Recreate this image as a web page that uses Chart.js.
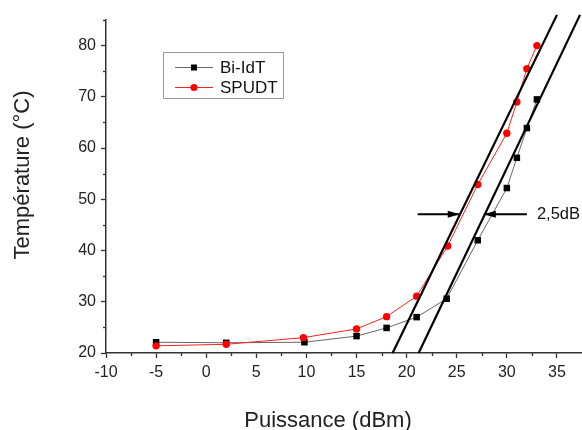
<!DOCTYPE html>
<html><head><meta charset="utf-8">
<script src="https://cdn.jsdelivr.net/npm/chart.js@4/dist/chart.umd.min.js"></script>
<style>html,body{margin:0;padding:0;background:#fff;overflow:hidden}#wrap{width:582px;height:430px}</style>
</head><body><div id="wrap"><canvas id="c" width="582" height="430"></canvas></div>
<script>
// ---- data ----
const powerBiIdT = [-5, 2, 9.8, 15, 18, 21, 24, 27.1, 30, 31, 32, 33];
const tempBiIdT  = [22.1, 22.0, 22.1, 23.3, 24.9, 27.0, 30.6, 42.0, 52.2, 58.1, 63.9, 69.5];
const powerSPUDT = [-5, 2, 9.7, 15, 18, 21, 24.1, 27.1, 30, 31, 32, 33];
const tempSPUDT  = [21.4, 21.7, 23.0, 24.7, 27.1, 31.1, 40.9, 52.9, 62.9, 69.0, 75.5, 80.0];
const fitSPUDTx = [18.6, 35.0];
const fitSPUDTy = [20, 86];
const fitBiIdTx = [21.2, 37.3];
const fitBiIdTy = [20, 86];
const arrowY = 47.1;
const arrowLeftX = [21.1, 25.3];
const arrowRightX = [32.0, 27.7];
const arrowLabel = '2,5dB';
const arrowLabelX = 32.9;
const xTicks = [-10, -5, 0, 5, 10, 15, 20, 25, 30, 35];
const yTicks = [20, 30, 40, 50, 60, 70, 80];
const xMinorTicks = [-7.5, -2.5, 2.5, 7.5, 12.5, 17.5, 22.5, 27.5, 32.5];
const yMinorTicks = [25, 35, 45, 55, 65, 75, 85];
const seriesNames = ['Bi-IdT', 'SPUDT'];
const xTitle = 'Puissance (dBm)';
const yTitle = 'Température (°C)';

const FONT = "'Liberation Sans', Arial, sans-serif";
Chart.defaults.font.family = FONT;
const toPts = (xs, ys) => xs.map((x, i) => ({x: x, y: ys[i]}));

const extras = {
  id: 'extras',
  afterDraw(chart) {
    const ctx = chart.ctx, xs = chart.scales.x, ys = chart.scales.y;
    ctx.save();
    // minor ticks
    ctx.strokeStyle = '#333'; ctx.lineWidth = 1.3;
    const ax = chart.chartArea.left, ay = chart.chartArea.bottom;
    xMinorTicks.forEach(v => { const p = Math.round(xs.getPixelForValue(v)) + 0.5; ctx.beginPath(); ctx.moveTo(p, ay); ctx.lineTo(p, ay + 3); ctx.stroke(); });
    yMinorTicks.forEach(v => { const p = Math.round(ys.getPixelForValue(v)) + 0.5; ctx.beginPath(); ctx.moveTo(ax, p); ctx.lineTo(ax - 3, p); ctx.stroke(); });
    // arrowheads
    const py = ys.getPixelForValue(arrowY);
    ctx.fillStyle = '#000';
    [arrowLeftX, arrowRightX].forEach(a => {
      const tip = xs.getPixelForValue(a[1]);
      const dir = Math.sign(a[1] - a[0]);
      ctx.beginPath(); ctx.moveTo(tip, py); ctx.lineTo(tip - dir * 12, py - 3.5); ctx.lineTo(tip - dir * 12, py + 3.5); ctx.closePath(); ctx.fill();
    });
    ctx.fillStyle = '#111';
    ctx.font = '16.5px ' + FONT; ctx.textBaseline = 'middle'; ctx.textAlign = 'left';
    ctx.fillText(arrowLabel, xs.getPixelForValue(arrowLabelX) + 1, py);
    // legend
    ctx.fillStyle = '#fff'; ctx.fillRect(163.5, 52.5, 120, 46);
    ctx.strokeStyle = '#9a9a9a'; ctx.lineWidth = 1; ctx.strokeRect(163.5, 52.5, 120, 46);
    const rows = [{y: 67.5, c: '#666', m: '#000', sq: true}, {y: 87.5, c: '#ff2020', m: '#ff0000', sq: false}];
    rows.forEach((r, i) => {
      ctx.strokeStyle = r.c; ctx.lineWidth = 1; ctx.beginPath(); ctx.moveTo(175, r.y); ctx.lineTo(213, r.y); ctx.stroke();
      ctx.fillStyle = r.m;
      if (r.sq) ctx.fillRect(191, r.y - 3, 6, 6); else { ctx.beginPath(); ctx.arc(194, r.y, 3.6, 0, Math.PI * 2); ctx.fill(); }
      ctx.fillStyle = '#111'; ctx.font = '17px ' + FONT; ctx.textBaseline = 'middle';
      ctx.fillText(seriesNames[i], 220, r.y + 0.5);
    });
    // axis titles
    ctx.fillStyle = '#222'; ctx.font = '22px ' + FONT; ctx.textBaseline = 'alphabetic'; ctx.textAlign = 'center';
    ctx.fillText(xTitle, 328, 427);
    ctx.translate(28.5, 175); ctx.rotate(-Math.PI / 2);
    ctx.fillText(yTitle, 0, 0);
    ctx.restore();
  }
};

new Chart(document.getElementById('c'), {
  type: 'scatter',
  data: {
    datasets: [
      {label: seriesNames[0], data: toPts(powerBiIdT, tempBiIdT), showLine: true, borderColor: '#666', borderWidth: 1,
       pointStyle: 'rect', pointRadius: 4.6, pointBackgroundColor: '#000', pointBorderColor: '#000', pointBorderWidth: 0, order: 3},
      {label: seriesNames[1], data: toPts(powerSPUDT, tempSPUDT), showLine: true, borderColor: '#ff2020', borderWidth: 1,
       pointStyle: 'circle', pointRadius: 3.7, pointBackgroundColor: '#ff0000', pointBorderColor: '#ff0000', pointBorderWidth: 0, order: 2},
      {label: 'fit1', data: toPts(fitSPUDTx, fitSPUDTy), showLine: true, borderColor: '#000', borderWidth: 2.2, pointRadius: 0, clip: false, order: 1},
      {label: 'fit2', data: toPts(fitBiIdTx, fitBiIdTy), showLine: true, borderColor: '#000', borderWidth: 2.2, pointRadius: 0, clip: false, order: 1},
      {label: 'arrowL', data: toPts(arrowLeftX, [arrowY, arrowY]), showLine: true, borderColor: '#000', borderWidth: 2, pointRadius: 0, clip: false, order: 1},
      {label: 'arrowR', data: toPts(arrowRightX, [arrowY, arrowY]), showLine: true, borderColor: '#000', borderWidth: 2, pointRadius: 0, clip: false, order: 1}
    ]
  },
  options: {
    responsive: false, animation: false,
    layout: {autoPadding: false, padding: {top: 20, right: 0, left: 0, bottom: 0}},
    plugins: {legend: {display: false}, tooltip: {enabled: false}},
    scales: {
      x: {type: 'linear', position: 'bottom', min: -10, max: 37.5,
          afterBuildTicks: s => { s.ticks = xTicks.map(v => ({value: v})); },
          afterFit: s => { s.height = 77; s.paddingLeft = 0; s.paddingRight = 0; },
          ticks: {font: {size: 16}, color: '#222', padding: 5, maxRotation: 0, autoSkip: false},
          grid: {drawOnChartArea: false, drawTicks: true, tickLength: 5, tickColor: '#333', tickWidth: 1.3},
          border: {color: '#333', width: 1.5}},
      y: {type: 'linear', min: 20, max: 85,
          afterBuildTicks: s => { s.ticks = yTicks.map(v => ({value: v})); },
          afterFit: s => { s.width = 106; s.paddingTop = 0; s.paddingBottom = 0; },
          ticks: {font: {size: 16}, color: '#222', padding: 5, autoSkip: false},
          grid: {drawOnChartArea: false, drawTicks: true, tickLength: 5, tickColor: '#333', tickWidth: 1.3},
          border: {color: '#333', width: 1.5}}
    }
  },
  plugins: [extras]
});
</script></body></html>
